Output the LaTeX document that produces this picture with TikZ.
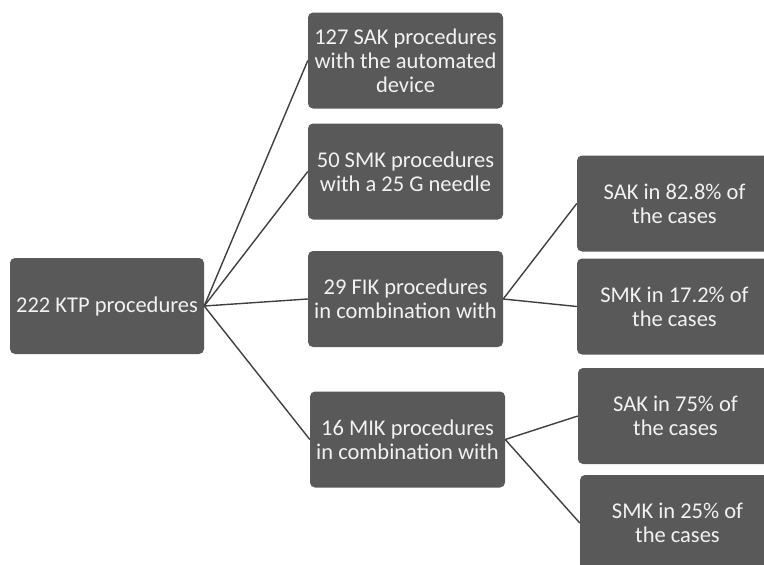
\documentclass[tikz,border=0pt]{standalone}
\usepackage{fontspec}
\setmainfont{Carlito}
\definecolor{boxfill}{HTML}{595959}
\definecolor{boxtext}{HTML}{F2F2F2}
\definecolor{linecol}{HTML}{404040}
\begin{document}
\begin{tikzpicture}[x=1pt,y=-1pt,
  box/.style={rectangle, rounded corners=5pt, fill=boxfill, text=boxtext,
    minimum width=195pt, minimum height=96pt, inner sep=0pt, align=center,
    font=\fontsize{22.5}{24}\selectfont},
  conn/.style={draw=linecol, line width=1.4pt}]
\useasboundingbox (0,0) rectangle (764,565);
\clip (0,0) rectangle (764,565);
\fill[white] (0,0) rectangle (764,565);
\node[box, minimum width=194pt] (root) at (107,306) {222 KTP procedures};
\node[box] (b1) at (405.5,60.5) {127 SAK procedures\\with the automated\\device};
\node[box] (b2) at (405.5,171.5) {50 SMK procedures\\with a 25 G needle};
\node[box] (b3) at (405.5,299) {29 FIK procedures\\in combination with};
\node[box] (b4) at (407.5,439.5) {16 MIK procedures\\in combination with};
\node[box] (b5) at (674.5,203.5) {SAK in 82.8\% of\\the cases};
\node[box] (b6) at (674.5,306.5) {SMK in 17.2\% of\\the cases};
\node[box] (b7) at (675.5,416) {SAK in 75\% of\\the cases};
\node[box] (b8) at (677.5,523) {SMK in 25\% of\\the cases};
\draw[conn] (root.east) -- (b1.west);
\draw[conn] (root.east) -- (b2.west);
\draw[conn] (root.east) -- (b3.west);
\draw[conn] (root.east) -- (b4.west);
\draw[conn] (b3.east) -- (b5.west);
\draw[conn] (b3.east) -- (b6.west);
\draw[conn] (b4.east) -- (b7.west);
\draw[conn] (b4.east) -- (b8.west);
\end{tikzpicture}
\end{document}
